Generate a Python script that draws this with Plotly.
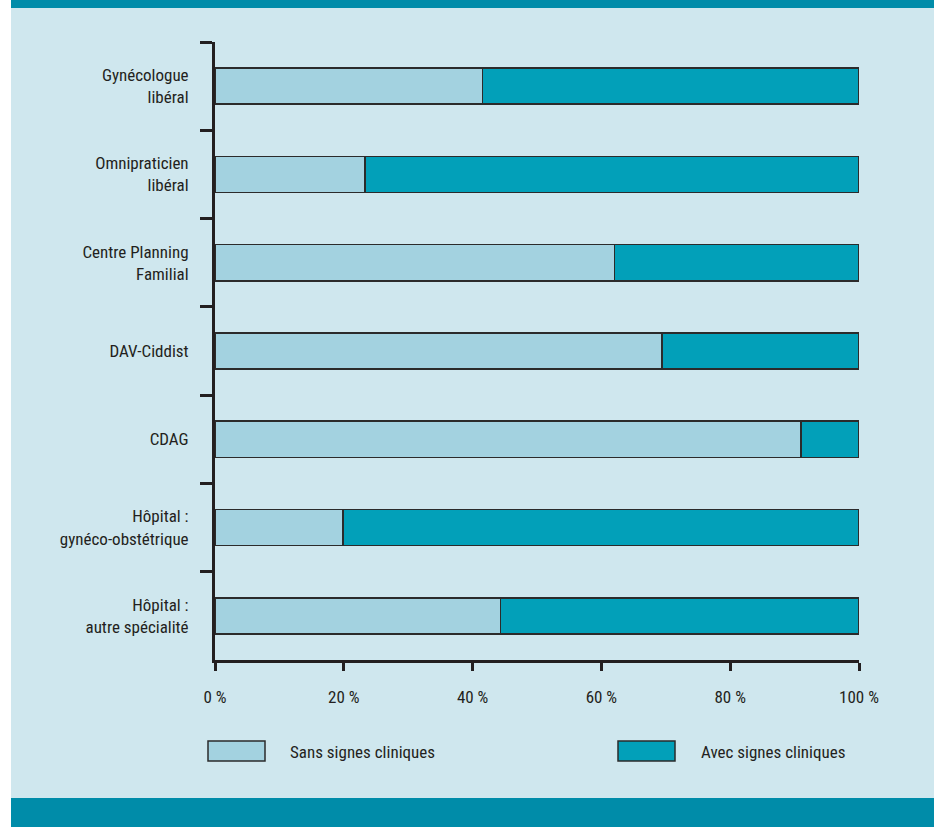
import plotly.graph_objects as go

categories = ["Gynécologue<br>libéral", "Omnipraticien<br>libéral", "Centre Planning<br>Familial",
              "DAV-Ciddist", "CDAG", "Hôpital :<br>gynéco-obstétrique", "Hôpital :<br>autre spécialité"]
sans_signes = [41.5, 23.3, 62.0, 69.4, 91.0, 19.9, 44.3]
avec_signes = [100 - v for v in sans_signes]
x_ticks = [0, 20, 40, 60, 80, 100]
x_tick_labels = ["0 %", "20 %", "40 %", "60 %", "80 %", "100 %"]
legend_names = ["Sans signes cliniques", "Avec signes cliniques"]

LIGHT = "#a3d2e0"
DARK = "#02a0b9"
BG = "#cfe7ee"
BAND = "#008ca9"
INK = "#231f20"
FONT = "Liberation Sans Narrow, Roboto Condensed, Open Sans, sans-serif"

# plot area in page pixels
PX0, PX1, PY0, PY1 = 215, 859, 42, 660
PW, PH = PX1 - PX0, PY1 - PY0


def px(x):
    return (x - PX0) / PW


def py(y):
    return (PY1 - y) / PH


fig = go.Figure()
fig.add_trace(go.Bar(y=categories, x=sans_signes, orientation="h", name=legend_names[0],
                     marker=dict(color=LIGHT, line=dict(color="#2b2b2b", width=1.5)),
                     width=0.41, showlegend=False, hoverinfo="skip"))
fig.add_trace(go.Bar(y=categories, x=avec_signes, orientation="h", name=legend_names[1],
                     marker=dict(color=DARK, line=dict(color="#2b2b2b", width=1.5)),
                     width=0.41, showlegend=False, hoverinfo="skip"))

shapes = [
    dict(type="rect", xref="paper", yref="paper", x0=px(11), x1=px(934),
         y0=py(798), y1=py(8), fillcolor=BG, line=dict(width=0), layer="below"),
    dict(type="rect", xref="paper", yref="paper", x0=px(11), x1=px(934),
         y0=py(8), y1=py(0), fillcolor=BAND, line=dict(width=0), layer="below"),
    dict(type="rect", xref="paper", yref="paper", x0=px(11), x1=px(934),
         y0=py(827), y1=py(798), fillcolor=BAND, line=dict(width=0), layer="below"),
]
legend_boxes = [(208, 265, LIGHT), (618, 675, DARK)]
for x0, x1, c in legend_boxes:
    shapes.append(dict(type="rect", xref="paper", yref="paper",
                       x0=px(x0), x1=px(x1), y0=py(761), y1=py(741),
                       fillcolor=c, line=dict(color="#2b2b2b", width=1.5)))

annotations = []
for name, xt in zip(legend_names, [288, 699]):
    annotations.append(dict(xref="paper", yref="paper", x=px(xt), y=py(752),
                            text=name, showarrow=False, xanchor="left", yanchor="middle",
                            font=dict(family=FONT, size=17, color=INK)))

fig.update_layout(
    barmode="stack",
    width=936, height=827,
    margin=dict(l=PX0, r=936 - PX1, t=PY0, b=827 - PY1),
    paper_bgcolor="white",
    plot_bgcolor=BG,
    shapes=shapes,
    annotations=annotations,
    font=dict(family=FONT, size=17, color=INK),
    xaxis=dict(range=[0, 100], tickvals=x_ticks, ticktext=x_tick_labels,
               showgrid=False, zeroline=False, showline=True, linecolor=INK, linewidth=3,
               ticks="outside", ticklen=8, tickwidth=3, tickcolor=INK,
               ticklabelstandoff=12, tickfont=dict(size=17, color=INK, family=FONT)),
    yaxis=dict(type="category", range=[6.5, -0.5], showgrid=False, zeroline=False,
               showline=True, linecolor=INK, linewidth=3,
               ticks="outside", tickson="boundaries", ticklen=12, tickwidth=3, tickcolor=INK,
               ticklabelstandoff=20, tickfont=dict(size=17, color=INK, family=FONT)),
)

fig.write_html("out.html", config={"displayModeBar": False},
               post_script="document.body.style.margin='0';")
